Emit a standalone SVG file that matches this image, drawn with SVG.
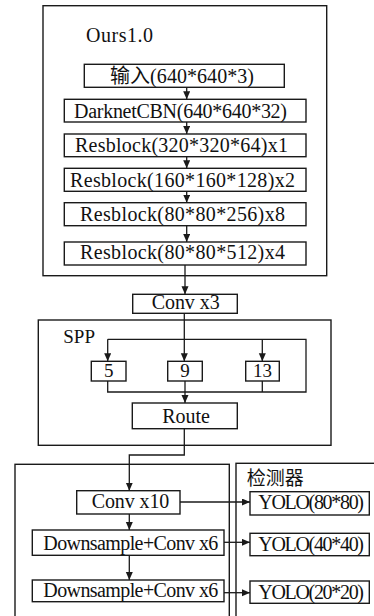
<svg xmlns="http://www.w3.org/2000/svg" width="374" height="616" viewBox="0 0 374 616">
  <style>
    .frame { fill: none; stroke: #1a1a1a; stroke-width: 1.4; }
    .box { fill: #fff; stroke: #1a1a1a; stroke-width: 1.4; }
    .wire { fill: none; stroke: #1a1a1a; stroke-width: 1.3; }
    .arrow { marker-end: url(#head); }
    .t { font-family: "Liberation Serif", "Noto Sans CJK SC", serif; font-size: 20px; fill: #111; }
    .p { font-family: "Liberation Serif", serif; font-size: 19px; fill: #111; }
    .c { font-family: "Noto Sans CJK SC", sans-serif; font-size: 19px; fill: #111; }
  </style>
  <defs>
    <marker id="head" markerUnits="userSpaceOnUse" markerWidth="9" markerHeight="8" refX="8" refY="3.5" orient="auto">
      <path d="M0,0 L8,3.5 L0,7 z" fill="#1a1a1a"/>
    </marker>
  </defs>
  <rect width="374" height="616" fill="#fff"/>

  <!-- backbone frame -->
  <g id="backbone">
    <rect class="frame" x="43" y="5.7" width="283.7" height="270"/>
    <text class="t" x="86" y="41.7" textLength="67" lengthAdjust="spacing">Ours1.0</text>
  </g>
  <g id="input">
    <rect class="box" x="84.3" y="64.3" width="200" height="23"/>
    <text class="t" x="110" y="82.5" textLength="144" lengthAdjust="spacing">输入(640*640*3)</text>
  </g>
  <g id="darknet-cbn">
    <rect class="box" x="64.3" y="99.3" width="241.7" height="22.7"/>
    <text class="t" x="74" y="118" textLength="213" lengthAdjust="spacing">DarknetCBN(640*640*32)</text>
  </g>
  <g id="resblock1">
    <rect class="box" x="64.3" y="134" width="241.7" height="22.7"/>
    <text class="t" x="75" y="152.3" textLength="213" lengthAdjust="spacing">Resblock(320*320*64)x1</text>
  </g>
  <g id="resblock2">
    <rect class="box" x="64.3" y="168.3" width="241.7" height="23"/>
    <text class="t" x="70" y="187" textLength="225" lengthAdjust="spacing">Resblock(160*160*128)x2</text>
  </g>
  <g id="resblock3">
    <rect class="box" x="64.3" y="202.7" width="241.7" height="23"/>
    <text class="t" x="80" y="221" textLength="205" lengthAdjust="spacing">Resblock(80*80*256)x8</text>
  </g>
  <g id="resblock4">
    <rect class="box" x="64.3" y="242" width="241.7" height="23"/>
    <text class="t" x="80" y="259.3" textLength="205" lengthAdjust="spacing">Resblock(80*80*512)x4</text>
  </g>

  <g id="conv3">
    <rect class="box" x="132.7" y="294.3" width="104.6" height="19"/>
    <text class="t" x="151.7" y="309.3" textLength="68" lengthAdjust="spacing">Conv x3</text>
  </g>

  <!-- SPP block -->
  <g id="spp">
    <rect class="frame" x="38.3" y="320" width="292.7" height="125.3"/>
    <text class="p" x="63.3" y="343.3">SPP</text>
  </g>
  <g id="pool5">
    <rect class="box" x="91.3" y="361.3" width="34.7" height="19.7"/>
    <text class="p" x="108.7" y="377.3" text-anchor="middle">5</text>
  </g>
  <g id="pool9">
    <rect class="box" x="167.7" y="361.3" width="34.6" height="19.7"/>
    <text class="p" x="185" y="377.3" text-anchor="middle">9</text>
  </g>
  <g id="pool13">
    <rect class="box" x="245.7" y="361.3" width="33.6" height="19.7"/>
    <text class="p" x="262.5" y="377.3" text-anchor="middle">13</text>
  </g>
  <g id="route">
    <rect class="box" x="132.3" y="403" width="105" height="25.7"/>
    <text class="t" x="162.3" y="423.3" textLength="47.7" lengthAdjust="spacing">Route</text>
  </g>

  <!-- neck and detectors -->
  <g id="neck">
    <rect class="frame" x="15" y="464.3" width="214.3" height="160"/>
  </g>
  <g id="detector">
    <rect class="frame" x="236" y="463.3" width="145" height="160"/>
    <text class="c" x="246.7" y="485">检测器</text>
  </g>
  <g id="conv10">
    <rect class="box" x="76.7" y="490.7" width="103.3" height="23.3"/>
    <text class="t" x="91.7" y="508.3" textLength="77.6" lengthAdjust="spacing">Conv x10</text>
  </g>
  <g id="down1">
    <rect class="box" x="32.3" y="530" width="191.7" height="25.3"/>
    <text class="t" x="43.3" y="550" textLength="175" lengthAdjust="spacing">Downsample+Conv x6</text>
  </g>
  <g id="down2">
    <rect class="box" x="32.3" y="580" width="191.7" height="21.7"/>
    <text class="t" x="43.3" y="596.7" textLength="175" lengthAdjust="spacing">Downsample+Conv x6</text>
  </g>
  <g id="yolo80">
    <rect class="box" x="250" y="491.7" width="119.3" height="23.3"/>
    <text class="t" x="258.3" y="509.3" textLength="105.7" lengthAdjust="spacing">YOLO(80*80)</text>
  </g>
  <g id="yolo40">
    <rect class="box" x="250" y="533.3" width="119.3" height="22.4"/>
    <text class="t" x="258.3" y="551.3" textLength="105.7" lengthAdjust="spacing">YOLO(40*40)</text>
  </g>
  <g id="yolo20">
    <rect class="box" x="250" y="581" width="119.3" height="22.3"/>
    <text class="t" x="258.3" y="599" textLength="105.7" lengthAdjust="spacing">YOLO(20*20)</text>
  </g>

  <!-- connectors -->
  <g id="connectors">
    <path class="wire arrow" d="M186.7,87.3 V99.3"/>
    <path class="wire arrow" d="M186.7,122 V134"/>
    <path class="wire arrow" d="M186.7,156.7 V168.3"/>
    <path class="wire arrow" d="M186.7,191.3 V202.7"/>
    <path class="wire arrow" d="M186.7,225.7 V242"/>
    <path class="wire arrow" d="M185,265 V294.3"/>
    <path class="wire arrow" d="M184.3,313.3 V361.3"/>
    <path class="wire" d="M107.7,339.3 H306 V392 H107.7 V381"/>
    <path class="wire arrow" d="M107.7,339.3 V361.3"/>
    <path class="wire arrow" d="M262.3,339.3 V361.3"/>
    <path class="wire" d="M185,381 V392"/>
    <path class="wire" d="M262.3,381 V392"/>
    <path class="wire arrow" d="M185,392 V403"/>
    <path class="wire arrow" d="M184.3,428.7 V455 H129.3 V490.7"/>
    <path class="wire arrow" d="M180,502 H250"/>
    <path class="wire arrow" d="M129.3,514 V530"/>
    <path class="wire arrow" d="M224,542.3 H250"/>
    <path class="wire arrow" d="M129.3,555.3 V580"/>
    <path class="wire arrow" d="M224,592.7 H250"/>
  </g>
</svg>
